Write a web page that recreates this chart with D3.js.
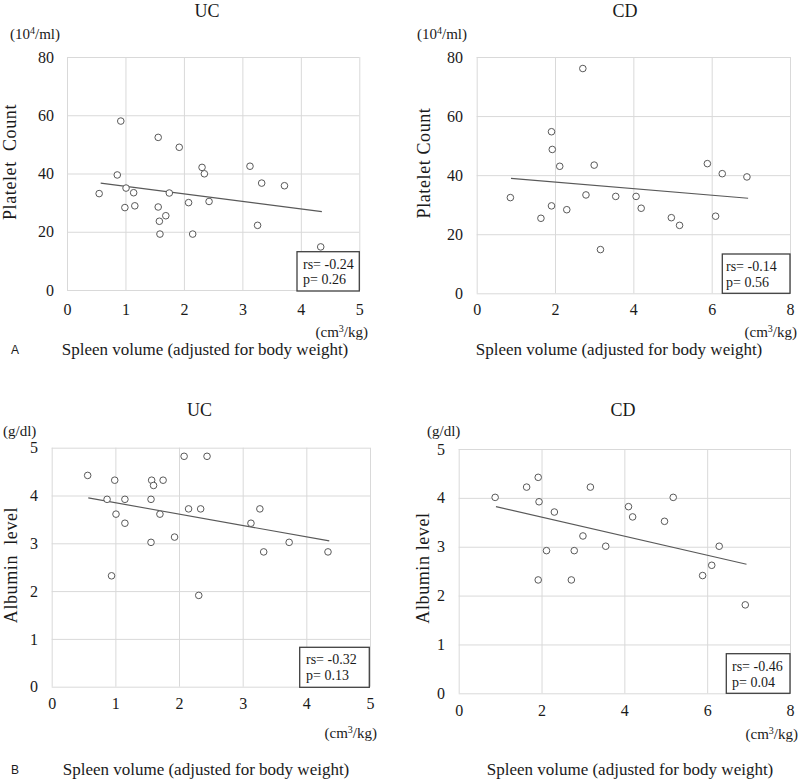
<!DOCTYPE html>
<html>
<head>
<meta charset="utf-8">
<script src="https://cdn.jsdelivr.net/npm/d3@7"></script>
<style>
  html, body { margin: 0; padding: 0; background: #fff; }
  svg { display: block; }
  text { font-family: "Liberation Serif", "Times New Roman", serif; fill: #1a1a1a; }
  .tick text { font-family: "Liberation Serif", "Times New Roman", serif !important; }
  text.sans { font-family: "Liberation Sans", Arial, sans-serif; }
</style>
</head>
<body>
<svg id="chart" width="800" height="782"></svg>
<script>
// ---------------- DATA ----------------
// Panel A, UC: spleen volume (cm3/kg) vs platelet count (10^4/ml)
const ucPltX = [0.92, 1.56, 1.92, 2.31, 2.35, 3.13, 3.33, 3.72, 0.86, 0.55, 1.01, 1.14, 1.75, 0.99, 1.16, 1.56, 1.58, 1.69, 1.59, 2.08, 2.43, 2.15, 3.26, 4.34];
const ucPltY = [58.0, 52.4, 49.0, 42.1, 39.9, 42.5, 36.7, 35.8, 39.5, 33.1, 35.0, 33.4, 33.3, 28.3, 28.9, 28.5, 23.6, 25.5, 19.2, 30.0, 30.4, 19.2, 22.2, 14.8];
const ucPltTrend = [[0.576, 36.7], [4.36, 26.9]];

// Panel A, CD
const cdPltX = [2.71, 1.91, 1.93, 2.12, 3.00, 5.89, 6.27, 6.90, 0.86, 1.64, 1.91, 2.30, 2.79, 3.55, 3.16, 4.07, 4.20, 4.97, 5.18, 6.10];
const cdPltY = [76.1, 54.7, 48.7, 43.0, 43.4, 43.9, 40.5, 39.4, 32.4, 25.4, 29.6, 28.3, 33.3, 32.8, 14.8, 32.8, 28.8, 25.6, 23.0, 26.1];
const cdPltTrend = [[0.875, 38.9], [6.93, 32.2]];

// Panel B, UC: spleen volume vs albumin (g/dl)
const ucAlbX = [0.565, 0.99, 1.57, 1.75, 1.60, 2.08, 2.44, 0.87, 1.15, 1.56, 1.01, 1.70, 1.15, 2.15, 2.34, 3.27, 3.13, 1.56, 1.93, 3.73, 3.33, 4.34, 0.94, 2.31];
const ucAlbY = [4.42, 4.32, 4.32, 4.32, 4.21, 4.82, 4.82, 3.92, 3.92, 3.92, 3.61, 3.61, 3.42, 3.72, 3.72, 3.72, 3.42, 3.02, 3.13, 3.02, 2.82, 2.82, 2.32, 1.91];
const ucAlbTrend = [[0.575, 3.95], [4.36, 3.05]];

// Panel B, CD
const cdAlbX = [0.88, 1.64, 1.92, 1.94, 3.18, 2.31, 4.10, 4.20, 5.18, 4.97, 3.00, 3.55, 2.12, 2.79, 6.29, 6.11, 5.89, 1.92, 2.72, 6.92];
const cdAlbY = [4.01, 4.22, 4.42, 3.92, 4.22, 3.71, 3.82, 3.61, 4.01, 3.52, 3.22, 3.01, 2.92, 2.92, 3.01, 2.62, 2.41, 2.32, 2.32, 1.81];
const cdAlbTrend = [[0.90, 3.82], [6.95, 2.64]];

const pltTicks = [0, 20, 40, 60, 80];
const albTicks = [0, 1, 2, 3, 4, 5];
const ucXTicks = [0, 1, 2, 3, 4, 5];
const cdXTicks = [0, 2, 4, 6, 8];

const stats = [["rs= -0.24", "p= 0.26"], ["rs= -0.14", "p= 0.56"], ["rs= -0.32", "p= 0.13"], ["rs= -0.46", "p= 0.04"]];

// ---------------- LAYOUT ----------------
const panels = [
  { title: "UC", xs: ucPltX, ys: ucPltY, trend: ucPltTrend, xTicks: ucXTicks, yTicks: pltTicks,
    xr: [67, 359.3], yr: [290, 57], titleX: 207, titleY: 17,
    unit: "(10\u2074/ml)", unitX: 10, unitY: 39, yLabel: "Platelet\u00a0\u00a0Count", yLabX: 16, yLabY: 162,
    tickRight: 54, xTickY: 316, cmX: 368, cmY: 337, spX: 205, spY: 355, letter: "A",
    box: [297, 251.7, 359.3, 291], boxTx: 303, boxL1: 269, boxL2: 284, stat: stats[0] },
  { title: "CD", xs: cdPltX, ys: cdPltY, trend: cdPltTrend, xTicks: cdXTicks, yTicks: pltTicks,
    xr: [476.7, 790], yr: [293.3, 57], titleX: 625, titleY: 17,
    unit: "(10\u2074/ml)", unitX: 417, unitY: 39, yLabel: "Platelet Count", yLabX: 430, yLabY: 163,
    tickRight: 463, xTickY: 316, cmX: 797, cmY: 337, spX: 619, spY: 355, letter: null,
    box: [722.3, 254, 790, 293.3], boxTx: 726, boxL1: 271, boxL2: 286.5, stat: stats[1] },
  { title: "UC", xs: ucAlbX, ys: ucAlbY, trend: ucAlbTrend, xTicks: ucXTicks, yTicks: albTicks,
    xr: [51.7, 370], yr: [686.7, 447.7], titleX: 199.5, titleY: 416,
    unit: "(g/dl)", unitX: 3, unitY: 436, yLabel: "Albumin\u00a0\u00a0level", yLabX: 16.5, yLabY: 565,
    tickRight: 38, xTickY: 710, cmX: 377, cmY: 738, spX: 206, spY: 775, letter: "B",
    box: [299.7, 647.3, 369.3, 687.3], boxTx: 306, boxL1: 664, boxL2: 680, stat: stats[2] },
  { title: "CD", xs: cdAlbX, ys: cdAlbY, trend: cdAlbTrend, xTicks: cdXTicks, yTicks: albTicks,
    xr: [458.7, 790], yr: [693.3, 449], titleX: 623, titleY: 416,
    unit: "(g/dl)", unitX: 427, unitY: 436, yLabel: "Albumin level", yLabX: 429, yLabY: 568,
    tickRight: 445, xTickY: 716.5, cmX: 798, cmY: 739, spX: 630, spY: 775, letter: null,
    box: [726.3, 653.7, 790, 693.3], boxTx: 732, boxL1: 671, boxL2: 686.5, stat: stats[3] }
];

const svg = d3.select("#chart");
const gridColor = "#d9d9d9";
const markColor = "#595959";
const serif = "'Liberation Serif', 'Times New Roman', serif";

panels.forEach(p => {
  const g = svg.append("g");
  const x = d3.scaleLinear().domain([p.xTicks[0], p.xTicks[p.xTicks.length - 1]]).range(p.xr);
  const y = d3.scaleLinear().domain([p.yTicks[0], p.yTicks[p.yTicks.length - 1]]).range(p.yr);

  // gridlines via axes
  const gx = g.append("g").attr("transform", `translate(0,${p.yr[1]})`)
    .call(d3.axisBottom(x).tickValues(p.xTicks).tickSize(p.yr[0] - p.yr[1]).tickFormat(""));
  const gy = g.append("g").attr("transform", `translate(${p.xr[0]},0)`)
    .call(d3.axisRight(y).tickValues(p.yTicks).tickSize(p.xr[1] - p.xr[0]).tickFormat(""));
  [gx, gy].forEach(a => {
    a.select(".domain").remove();
    a.selectAll(".tick line").attr("stroke", gridColor).attr("stroke-width", 1);
  });

  // tick labels
  const tx = g.append("g").attr("transform", `translate(0,${p.xTickY - 12})`)
    .call(d3.axisBottom(x).tickValues(p.xTicks).tickSize(0).tickPadding(0).tickFormat(d3.format("d")));
  tx.attr("font-family", serif).attr("font-size", 16);
  tx.select(".domain").remove();
  tx.selectAll("text").attr("dy", "0.71em").attr("fill", "#1a1a1a");

  const ty = g.append("g").attr("transform", `translate(${p.tickRight},0)`)
    .call(d3.axisLeft(y).tickValues(p.yTicks).tickSize(0).tickPadding(0).tickFormat(d3.format("d")));
  ty.attr("font-family", serif).attr("font-size", 16);
  ty.select(".domain").remove();
  ty.selectAll("text").attr("fill", "#1a1a1a");

  // trend line
  g.append("path")
    .datum(p.trend)
    .attr("d", d3.line().x(d => x(d[0])).y(d => y(d[1])))
    .attr("stroke", markColor).attr("stroke-width", 1.1).attr("fill", "none");

  // points
  g.selectAll("circle.pt").data(p.xs.map((v, i) => [v, p.ys[i]]))
    .join("circle").attr("class", "pt")
    .attr("cx", d => x(d[0])).attr("cy", d => y(d[1])).attr("r", 3.3)
    .attr("fill", "#fff").attr("stroke", markColor).attr("stroke-width", 1);

  // stats box
  g.append("rect")
    .attr("x", p.box[0]).attr("y", p.box[1])
    .attr("width", p.box[2] - p.box[0]).attr("height", p.box[3] - p.box[1])
    .attr("fill", "#fff").attr("stroke", "#404040").attr("stroke-width", 1.3);
  g.append("text").attr("x", p.boxTx).attr("y", p.boxL1).attr("font-size", 14).text(p.stat[0]);
  g.append("text").attr("x", p.boxTx).attr("y", p.boxL2).attr("font-size", 14).text(p.stat[1]);

  // title
  g.append("text").attr("x", p.titleX).attr("y", p.titleY).attr("text-anchor", "middle")
    .attr("font-size", 18).text(p.title);

  // unit label
  const u = g.append("text").attr("x", p.unitX).attr("y", p.unitY).attr("font-size", 15);
  if (p.unit.indexOf("\u2074") >= 0) {
    u.append("tspan").text("(10");
    u.append("tspan").attr("font-size", 10).attr("dy", -5).text("4");
    u.append("tspan").attr("dy", 5).text("/ml)");
  } else {
    u.text(p.unit);
  }

  // y axis label (yLabX = baseline position of rotated text)
  g.append("text").attr("transform", `translate(${p.yLabX},${p.yLabY}) rotate(-90)`)
    .attr("text-anchor", "middle").attr("font-size", 18).attr("letter-spacing", 0.6).text(p.yLabel);

  // x unit
  const c = g.append("text").attr("x", p.cmX).attr("y", p.cmY).attr("text-anchor", "end").attr("font-size", 15);
  c.append("tspan").text("(cm");
  c.append("tspan").attr("font-size", 10).attr("dy", -5).text("3");
  c.append("tspan").attr("dy", 5).text("/kg)");

  // x axis title
  g.append("text").attr("x", p.spX).attr("y", p.spY).attr("text-anchor", "middle")
    .attr("font-size", 17).text("Spleen volume (adjusted for body weight)");

  if (p.letter) {
    g.append("text").attr("class", "sans").attr("x", 15).attr("y", p.spY - 1)
      .attr("text-anchor", "middle").attr("font-size", 12).text(p.letter);
  }
});
</script>
</body>
</html>
